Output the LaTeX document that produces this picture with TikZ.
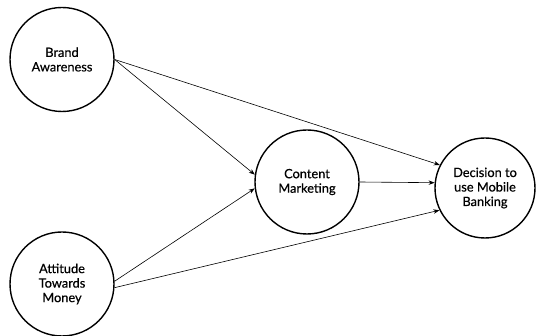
\documentclass[tikz,border=0pt]{standalone}
\usepackage{fontspec}
\setmainfont{Lato}[FakeBold=0.5]
\usetikzlibrary{arrows.meta}
\tikzset{
  var/.style={draw, circle, line width=1.4pt, minimum size=104pt, inner sep=0pt,
    align=center, font=\fontsize{12.8}{14.5}\selectfont},
  path/.style={line width=0.6pt, -{Stealth[length=6pt,width=4.5pt]}}
}
\begin{document}
\begin{tikzpicture}[x=1pt,y=-1pt]
      \useasboundingbox (0,0) rectangle (536,336);
      \draw
        (62,59.5) node[var] (ba){Brand\\Awareness}
        (62,284) node[var] (at){Attitude\\Towards\\Money}
        (307,182) node[var] (cm){Content\\Marketing}
        (485,188) node[var, minimum size=100pt] (dm){Decision to\\use Mobile\\Banking};
      \begin{scope}[path]
        \draw (ba.east) to (cm.172);
        \draw (ba.east) to (dm.153);
        \draw (at.3) to (cm.187);
        \draw (at.-4) to (dm.206);
        \draw (cm.east) to (dm.174);
      \end{scope}
    \end{tikzpicture}
\end{document}
